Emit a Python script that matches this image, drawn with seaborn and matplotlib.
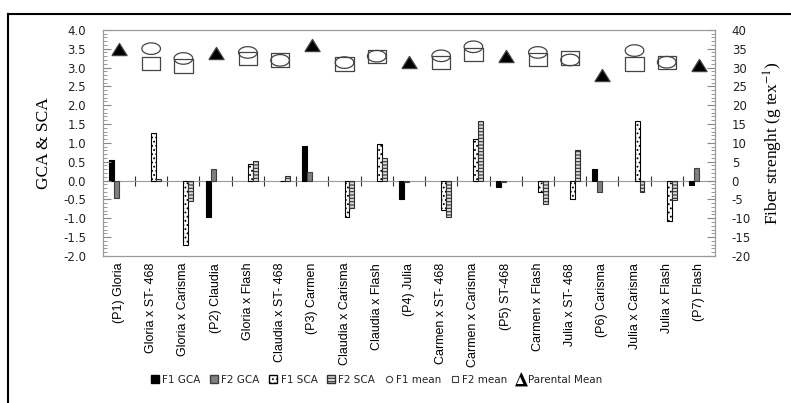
import matplotlib
matplotlib.use("Agg")
import matplotlib.pyplot as plt
import seaborn as sns
import pandas as pd
import numpy as np
from matplotlib.patches import Patch
from matplotlib.lines import Line2D
from matplotlib.path import Path
from matplotlib.ticker import MultipleLocator, FormatStrFormatter

nan = np.nan

categories = ["(P1) Gloria", "Gloria x ST- 468", "Gloria x Carisma", "(P2) Claudia",
              "Gloria x Flash", "Claudia x ST- 468", "(P3) Carmen", "Claudia x Carisma",
              "Claudia x Flash", "(P4) Julia", "Carmen x ST- 468", "Carmen x Carisma",
              "(P5) ST-468", "Carmen x Flash", "Julia x ST- 468", "(P6) Carisma",
              "Julia x Carisma", "Julia x Flash", "(P7) Flash"]

# combining ability effects (left axis)
f1_gca = [0.55, nan, nan, -0.96, nan, nan, 0.93, nan, nan, -0.50, nan, nan, -0.17, nan, nan, 0.30, nan, nan, -0.11]
f2_gca = [-0.47, nan, nan, 0.30, nan, nan, 0.22, nan, nan, -0.03, nan, nan, -0.05, nan, nan, -0.30, nan, nan, 0.33]
f1_sca = [nan, 1.25, -1.70, nan, 0.45, -0.02, nan, -0.96, 0.98, nan, -0.78, 1.10, nan, -0.31, -0.49, nan, 1.57, -1.08, nan]
f2_sca = [nan, 0.03, -0.55, nan, 0.52, 0.13, nan, -0.72, 0.60, nan, -0.98, 1.57, nan, -0.61, 0.82, nan, -0.30, -0.52, nan]

# fiber strength means (right axis)
f1_mean = [nan, 35.0, 32.4, nan, 34.0, 31.9, nan, 31.3, 33.0, nan, 33.1, 35.5, nan, 34.0, 32.0, nan, 34.5, 31.4, nan]
f2_mean = [nan, 31.1, 30.4, nan, 32.3, 32.0, nan, 30.9, 33.0, nan, 31.3, 33.5, nan, 32.1, 32.5, nan, 30.9, 31.4, nan]
parental_mean = [35.0, nan, nan, 33.8, nan, nan, 36.1, nan, nan, 31.5, nan, nan, 33.0, nan, nan, 28.0, nan, nan, 30.6]

effects = ["F1 GCA", "F2 GCA", "F1 SCA", "F2 SCA"]


def main():
    plt.rcParams['axes.unicode_minus'] = False
    plt.rcParams['hatch.linewidth'] = 0.8
    plt.rcParams['mathtext.fontset'] = 'stix'

    bars = pd.DataFrame({"cross": categories, "F1 GCA": f1_gca, "F2 GCA": f2_gca,
                         "F1 SCA": f1_sca, "F2 SCA": f2_sca})
    bars = bars.melt(id_vars="cross", var_name="effect", value_name="value").dropna()

    fig = plt.figure(figsize=(7.91, 4.03), dpi=100)
    ax = fig.add_axes([0.130, 0.365, 0.774, 0.561])

    sns.barplot(data=bars, x="cross", y="value", hue="effect", order=categories,
                hue_order=effects, width=0.62, errorbar=None, legend=False, ax=ax)

    styles = [dict(fc="black", ec="black", hatch=None),
              dict(fc="#808080", ec="#404040", hatch=None),
              dict(fc="white", ec="black", hatch="...."),
              dict(fc="#d8d8d8", ec="#303030", hatch="-----")]
    for cont, st in zip(ax.containers, styles):
        for p in cont.patches:
            p.set_facecolor(st["fc"])
            p.set_edgecolor(st["ec"])
            p.set_linewidth(0.8)
            if st["hatch"]:
                p.set_hatch(st["hatch"])

    ax.set_ylim(-2, 4)
    ax.yaxis.set_major_locator(MultipleLocator(0.5))
    ax.yaxis.set_minor_locator(MultipleLocator(0.1))
    ax.yaxis.set_major_formatter(FormatStrFormatter("%.1f"))
    ax.tick_params(axis="y", which="both", direction="in", color="#888888", pad=12,
                   labelsize=8.5, labelcolor="#222222")
    ax.tick_params(axis="y", which="major", length=6)
    ax.tick_params(axis="y", which="minor", length=3)
    ax.tick_params(axis="x", length=0, pad=5)
    for lab in ax.get_xticklabels():
        lab.set_rotation(90)
        lab.set_family("Liberation Sans")
        lab.set_fontsize(9)
    ax.set_xlabel("")
    ax.set_ylabel("GCA & SCA", family="Liberation Serif", fontsize=12.5, labelpad=8)
    for s in ax.spines.values():
        s.set_color("#999999")

    # zero line with category separators
    zero = ax.secondary_xaxis(2 / 6)
    zero.set_xticks(np.arange(0.5, len(categories) - 1, 1.0))
    zero.tick_params(direction="inout", length=7, labelbottom=False, color="#333333")
    zero.spines["bottom"].set_color("#999999")

    ax2 = ax.twinx()
    ell = [(np.cos(t), 0.62 * np.sin(t)) for t in np.linspace(0, 2 * np.pi, 41)]
    rect = [(-1, -0.72), (1, -0.72), (1, 0.72), (-1, 0.72), (-1, -0.72)]
    tri = [(-0.5, -0.4), (0.5, -0.4), (0, 0.4), (-0.5, -0.4)]

    means = [("F1 mean", f1_mean, Path(ell), 180, "none"),
             ("F2 mean", f2_mean, Path(rect), 175, "none"),
             ("Parental Mean", parental_mean, Path(tri), 120, "black")]
    for name, vals, mk, size, fc in means:
        df = pd.DataFrame({"cross": categories, "value": vals}).dropna()
        sns.stripplot(data=df, x="cross", y="value", order=categories, jitter=False,
                      marker=mk, s=np.sqrt(size), facecolor=fc, edgecolor="#444444",
                      linewidth=0.9, color="black" if fc == "black" else "white", ax=ax2)
    ax2.set_ylim(-20, 40)
    ax2.yaxis.set_major_locator(MultipleLocator(5))
    ax2.yaxis.set_minor_locator(MultipleLocator(1))
    ax2.tick_params(axis="y", which="both", direction="in", color="#888888", pad=12,
                    labelsize=8.5, labelcolor="#222222")
    ax2.tick_params(axis="y", which="major", length=6)
    ax2.tick_params(axis="y", which="minor", length=3)
    ax2.set_ylabel(r"Fiber strenght (g tex$^{-1}$)", family="Liberation Serif",
                   fontsize=12.5, labelpad=8)
    ax2.set_xlabel("")
    for s in ax2.spines.values():
        s.set_color("#999999")

    handles = [Patch(fc="black", ec="black"),
               Patch(fc="#808080", ec="#404040"),
               Patch(fc="white", ec="black", hatch="...."),
               Patch(fc="#d8d8d8", ec="#303030", hatch="-----"),
               Line2D([], [], ls="none", marker="o", ms=4.5, mfc="white", mec="#444444", mew=0.8),
               Line2D([], [], ls="none", marker="s", ms=4.5, mfc="white", mec="#444444", mew=0.8),
               Line2D([], [], ls="none", marker=r"$\mathbf{\Delta}$", ms=10, mew=0,
                      color="black")]
    labels = ["F1 GCA", "F2 GCA", "F1 SCA", "F2 SCA", "F1 mean", "F2 mean", "Parental Mean"]
    fig.legend(handles, labels, loc="center", bbox_to_anchor=(0.476, 0.057), ncol=7,
               frameon=False, fontsize=7.5, handlelength=0.8, handleheight=0.8,
               handletextpad=0.3, columnspacing=0.9, labelcolor="#222222")

    # outer frame (top and left edges)
    fig.add_artist(Line2D([8 / 791, 1], [1 - 14 / 403] * 2, transform=fig.transFigure,
                          color="black", lw=1.5))
    fig.add_artist(Line2D([8 / 791] * 2, [0, 1 - 14 / 403], transform=fig.transFigure,
                          color="black", lw=1.5))

    fig.savefig("out.png", dpi=100)


if __name__ == '__main__':
    main()
